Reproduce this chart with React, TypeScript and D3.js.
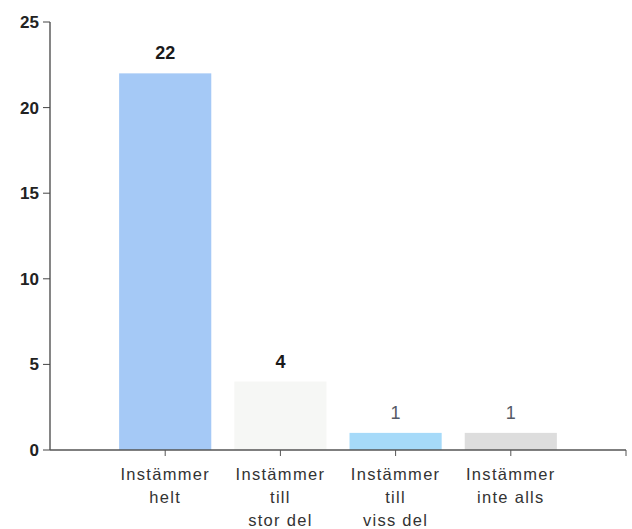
import React from "react";
import * as d3 from "d3";

const categories: string[][] = [
  ["Instämmer", "helt"],
  ["Instämmer", "till", "stor del"],
  ["Instämmer", "till", "viss del"],
  ["Instämmer", "inte alls"],
];
const values: number[] = [22, 4, 1, 1];
const barColors: string[] = ["#a5c9f6", "#f6f7f5", "#a6daf9", "#dddddd"];
const labelColors: string[] = ["#1a1a1a", "#1a1a1a", "#555a66", "#555a66"];
const yTicks: number[] = [0, 5, 10, 15, 20, 25];

const W = 632;
const H = 529;
const left = 50;
const right = 626;
const top = 22;
const bottom = 450;

export default function App() {
  const y = d3.scaleLinear().domain([0, 25]).range([bottom, top]);
  const x = d3.scaleLinear().domain([0, categories.length + 1]).range([left, right]);
  const step = x(1) - x(0);
  const bw = step * 0.8;
  const font = "'Liberation Sans', Arial, sans-serif";
  return (
    <svg width={W} height={H} style={{ position: "absolute", left: 0, top: 0, background: "#fff" }}>
      {values.map((v, i) => (
        <rect key={i} x={x(i + 1) - bw / 2} y={y(v)} width={bw} height={y(0) - y(v)} fill={barColors[i]} />
      ))}
      {values.map((v, i) => (
        <text key={"l" + i} x={x(i + 1)} y={y(v) - 14} textAnchor="middle" fontFamily={font}
          fontSize={18} fontWeight={i < 2 ? 700 : 400} fill={labelColors[i]}>{v}</text>
      ))}
      <line x1={left} x2={left} y1={top} y2={bottom} stroke="#444" strokeWidth={1.3} />
      <line x1={left} x2={right} y1={bottom} y2={bottom} stroke="#555" strokeWidth={1.3} />
      <line x1={right} x2={right} y1={bottom} y2={bottom + 6} stroke="#555" strokeWidth={1} />
      {yTicks.map((t) => (
        <g key={t}>
          <line x1={left - 7} x2={left} y1={y(t)} y2={y(t)} stroke="#444" />
          <text x={left - 11} y={y(t) + 6} textAnchor="end" fontFamily={font} fontSize={17}
            fontWeight={700} fill="#222">{t}</text>
        </g>
      ))}
      {categories.map((lines, i) => (
        <g key={"c" + i}>
          <line x1={x(i + 1)} x2={x(i + 1)} y1={bottom} y2={bottom + 6} stroke="#555" />
          {lines.map((ln, j) => (
            <text key={j} x={x(i + 1)} y={bottom + 30 + j * 23} textAnchor="middle" fontFamily={font}
              fontSize={16.5} letterSpacing={1.3} fill="#333">{ln}</text>
          ))}
        </g>
      ))}
    </svg>
  );
}
